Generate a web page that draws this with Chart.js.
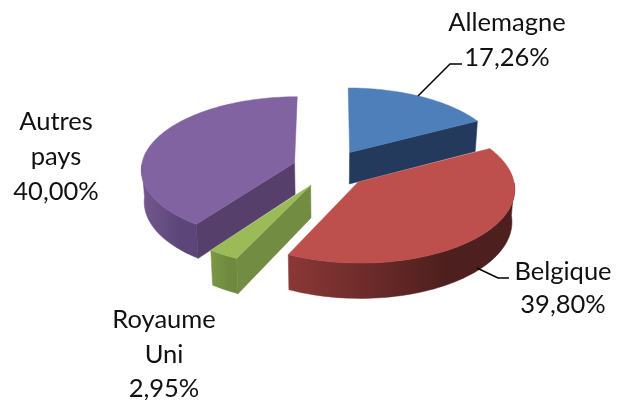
<!DOCTYPE html>
<html>
<head>
<meta charset="utf-8">
<style>
  html, body { margin: 0; padding: 0; background: #fff; }
  canvas { display: block; }
</style>
<script src="https://cdn.jsdelivr.net/npm/chart.js@4/dist/chart.umd.min.js"></script>
</head>
<body>
<canvas id="pie" width="625" height="400"></canvas>
<script>
const categories = ['Allemagne', 'Belgique', 'Royaume Uni', 'Autres pays'];
const shares = [17.26, 39.80, 2.95, 40.00];

const topColors = ['#4e7fba', '#bd4f4c', '#9bbb59', '#8063a0'];
const cutColors = ['#233a5c', '#4f201f', '#728c42', '#573f6c'];
const rimColors = [
  ['#2a4468', '#233a5c'],
  ['#8a3836', '#4d1f1e'],
  ['#7a9846', '#6f8a3f'],
  ['#72598f', '#5c4679']
];

// label blocks: lines, centre x, middle y of first line, line gap
const labelLayout = [
  { lines: ['Allemagne'], x: 507, y: 23, gap: 35 },
  { lines: ['Belgique'], x: 563, y: 272, gap: 33 },
  { lines: ['Royaume', 'Uni'], x: 164, y: 320, gap: 34.5 },
  { lines: ['Autres', 'pays'], x: 56, y: 122, gap: 35 }
];
const leaders = [
  [[418, 96], [450, 64], [462, 64]],
  [[477, 268], [498, 278], [509, 278]]
];

// flattened camera used for the tilted pie
const cam = { cx: 330.4, cy: 168.6, a: 153.5, b: 72.2, p: 0.0806, depth: 32, squeeze: 0.985, ex: 0.247, ez: 0.265 };
const drawOrder = [0, 3, 2, 1];

function project(x, z) {
  const w = 1 + cam.p * z;
  return { x: cam.cx + cam.a * x / w, y: cam.cy - cam.b * z / w, w };
}

function lower(pt) {
  return { x: cam.cx + (pt.x - cam.cx) * cam.squeeze, y: pt.y + cam.depth / pt.w };
}

function fillPoly(ctx, pts, fill) {
  ctx.beginPath();
  pts.forEach((p, i) => (i ? ctx.lineTo(p.x, p.y) : ctx.moveTo(p.x, p.y)));
  ctx.closePath();
  ctx.fillStyle = fill;
  ctx.fill();
  ctx.strokeStyle = fill;
  ctx.lineWidth = 0.5;
  ctx.stroke();
}

function drawSlice(ctx, arc, i) {
  // chart.js angles start at -90deg, the pie ones at 12 o'clock
  const start = arc.startAngle + Math.PI / 2;
  const end = arc.endAngle + Math.PI / 2;
  const mid = (start + end) / 2;
  const ox = cam.ex * Math.sin(mid);
  const oz = cam.ez * Math.cos(mid);
  const apex = project(ox, oz);

  const rim = [];
  const front = [];
  const steps = 80;
  for (let s = 0; s <= steps; s++) {
    const t = start + (end - start) * s / steps;
    const p = project(ox + Math.sin(t), oz + Math.cos(t));
    rim.push(p);
    if (Math.cos(t) < 0) front.push(p);
  }
  const first = rim[0];
  const last = rim[rim.length - 1];

  if (front.length > 1) {
    const xs = front.map((p) => p.x);
    const grad = ctx.createLinearGradient(Math.min(...xs), 0, Math.max(...xs), 0);
    grad.addColorStop(0, rimColors[i][0]);
    grad.addColorStop(0.7, rimColors[i][1]);
    grad.addColorStop(1, rimColors[i][1]);
    fillPoly(ctx, front.concat(front.map(lower).reverse()), grad);
  }

  // cut faces only show when they turn towards the viewer
  if (Math.sin(start) < -1e-6) fillPoly(ctx, [apex, first, lower(first), lower(apex)], cutColors[i]);
  if (Math.sin(end) > 1e-6) fillPoly(ctx, [apex, last, lower(last), lower(apex)], cutColors[i]);
  fillPoly(ctx, [apex].concat(rim), arc.options.backgroundColor);
}

const pie3d = {
  id: 'pie3d',
  beforeDatasetsDraw(chart) {
    const ctx = chart.ctx;
    const arcs = chart.getDatasetMeta(0).data;
    ctx.save();
    drawOrder.forEach((i) => drawSlice(ctx, arcs[i], i));
    ctx.restore();
    return false;
  },
  afterDraw(chart) {
    const ctx = chart.ctx;
    ctx.save();
    ctx.strokeStyle = '#000';
    ctx.lineWidth = 1.5;
    leaders.forEach((line) => {
      ctx.beginPath();
      line.forEach((p, i) => (i ? ctx.lineTo(p[0], p[1]) : ctx.moveTo(p[0], p[1])));
      ctx.stroke();
    });
    ctx.fillStyle = '#111';
    ctx.font = '25.5px Lato';
    ctx.textAlign = 'center';
    ctx.textBaseline = 'middle';
    labelLayout.forEach((l, i) => {
      const pct = shares[i].toFixed(2).replace('.', ',') + '%';
      l.lines.concat(pct).forEach((txt, n) => ctx.fillText(txt, l.x, l.y + n * l.gap));
    });
    ctx.restore();
  }
};

new Chart(document.getElementById('pie'), {
  type: 'pie',
  data: {
    labels: categories,
    datasets: [{ data: shares, backgroundColor: topColors, borderWidth: 0 }]
  },
  options: {
    responsive: false,
    animation: false,
    plugins: { legend: { display: false }, tooltip: { enabled: false } }
  },
  plugins: [pie3d]
});
</script>
</body>
</html>
